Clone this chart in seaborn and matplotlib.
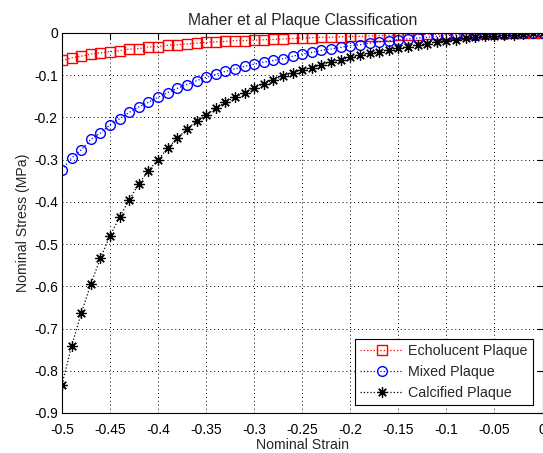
import numpy as np
import pandas as pd
import matplotlib
matplotlib.use("Agg")
import matplotlib.pyplot as plt
import seaborn as sns

strain = [round(-0.5 + 0.01 * i, 2) for i in range(51)]

echolucent = [-0.065, -0.059, -0.055, -0.050, -0.047, -0.044, -0.042, -0.038, -0.037, -0.033,
              -0.032, -0.029, -0.028, -0.026, -0.024, -0.022, -0.021, -0.020, -0.018, -0.018,
              -0.017, -0.016, -0.015, -0.014, -0.013, -0.012, -0.011, -0.010, -0.010, -0.009,
              -0.008, -0.008, -0.007, -0.006, -0.006, -0.005, -0.004, -0.004, -0.003, -0.003,
              -0.003, -0.002, -0.002, -0.002, -0.001, -0.001, -0.001, -0.001, 0.000, 0.000, 0.000]

mixed = [-0.324, -0.296, -0.277, -0.252, -0.237, -0.217, -0.203, -0.188, -0.175, -0.164,
         -0.152, -0.141, -0.131, -0.122, -0.113, -0.105, -0.098, -0.091, -0.085, -0.079,
         -0.074, -0.069, -0.065, -0.061, -0.055, -0.050, -0.046, -0.041, -0.038, -0.034,
         -0.030, -0.028, -0.024, -0.021, -0.018, -0.016, -0.014, -0.012, -0.010, -0.008,
         -0.006, -0.005, -0.004, -0.004, -0.003, -0.002, -0.002, -0.001, -0.001, 0.000, 0.000]

calcified = [-0.833, -0.741, -0.664, -0.595, -0.533, -0.480, -0.436, -0.395, -0.357, -0.326,
             -0.300, -0.273, -0.249, -0.228, -0.208, -0.194, -0.178, -0.164, -0.152, -0.141,
             -0.130, -0.120, -0.111, -0.103, -0.094, -0.087, -0.082, -0.075, -0.069, -0.063,
             -0.058, -0.053, -0.048, -0.044, -0.040, -0.036, -0.032, -0.028, -0.025, -0.021,
             -0.018, -0.016, -0.013, -0.010, -0.008, -0.006, -0.005, -0.004, -0.002, -0.001, 0.000]

labels = ["Echolucent Plaque", "Mixed Plaque", "Calcified Plaque"]
colors = ["#ff0000", "#0000ff", "#000000"]

xticks = [-0.5, -0.45, -0.4, -0.35, -0.3, -0.25, -0.2, -0.15, -0.1, -0.05, 0]
xticklabels = ["-0.5", "-0.45", "-0.4", "-0.35", "-0.3", "-0.25", "-0.2", "-0.15", "-0.1", "-0.05", "0"]
yticks = [0, -0.1, -0.2, -0.3, -0.4, -0.5, -0.6, -0.7, -0.8, -0.9]
yticklabels = ["0", "-0.1", "-0.2", "-0.3", "-0.4", "-0.5", "-0.6", "-0.7", "-0.8", "-0.9"]

sns.set_style("white")
plt.rcParams["font.family"] = ["Liberation Sans", "DejaVu Sans"]

fig = plt.figure(figsize=(5.43, 4.53), dpi=100)
ax = fig.add_axes([62 / 543, 40 / 453, 480.5 / 543, 380 / 453])

df = pd.DataFrame({"strain": strain, "e": echolucent, "m": mixed, "c": calcified})

sns.lineplot(data=df, x="strain", y="e", ax=ax, color=colors[0], linestyle=":", linewidth=0.9,
             marker="s", markersize=6.5, markerfacecolor="none", markeredgecolor=colors[0],
             markeredgewidth=1.0, label=labels[0])
sns.lineplot(data=df, x="strain", y="m", ax=ax, color=colors[1], linestyle=":", linewidth=0.9,
             marker="o", markersize=7, markerfacecolor="none", markeredgecolor=colors[1],
             markeredgewidth=1.0, label=labels[1])
sns.lineplot(data=df, x="strain", y="c", ax=ax, color=colors[2], linestyle=":", linewidth=0.9,
             marker=(8, 2, 0), markersize=7.5, markerfacecolor="black", markeredgecolor="black",
             markeredgewidth=0.9, label=labels[2])

ax.set_xlim(-0.5, 0)
ax.set_ylim(-0.9, 0)
ax.set_xticks(xticks)
ax.set_xticklabels(xticklabels)
ax.set_yticks(yticks)
ax.set_yticklabels(yticklabels)
ax.tick_params(direction="in", length=4, width=0.8, labelsize=10, top=True, right=True,
               colors="black", pad=3)
ax.tick_params(axis="x", pad=7)
ax.grid(True, linestyle=(0, (1, 3)), color="black", linewidth=0.7)
for s in ax.spines.values():
    s.set_visible(True)
    s.set_color("black")
    s.set_linewidth(0.8)

ax.set_xlabel("Nominal Strain", fontsize=10.2, labelpad=1)
ax.set_ylabel("Nominal Stress (MPa)", fontsize=10.2, labelpad=3)
ax.set_title("Maher et al Plaque Classification", fontsize=11.3, pad=6)

leg = ax.legend(loc="lower right", fontsize=10.3, frameon=True, fancybox=False, framealpha=1,
                edgecolor="black", borderpad=0.35, handlelength=3.0, handletextpad=0.35,
                labelspacing=0.5, borderaxespad=0, bbox_to_anchor=(0.980, 0.021))
leg.get_frame().set_linewidth(0.8)

fig.savefig("out.png", dpi=100)
